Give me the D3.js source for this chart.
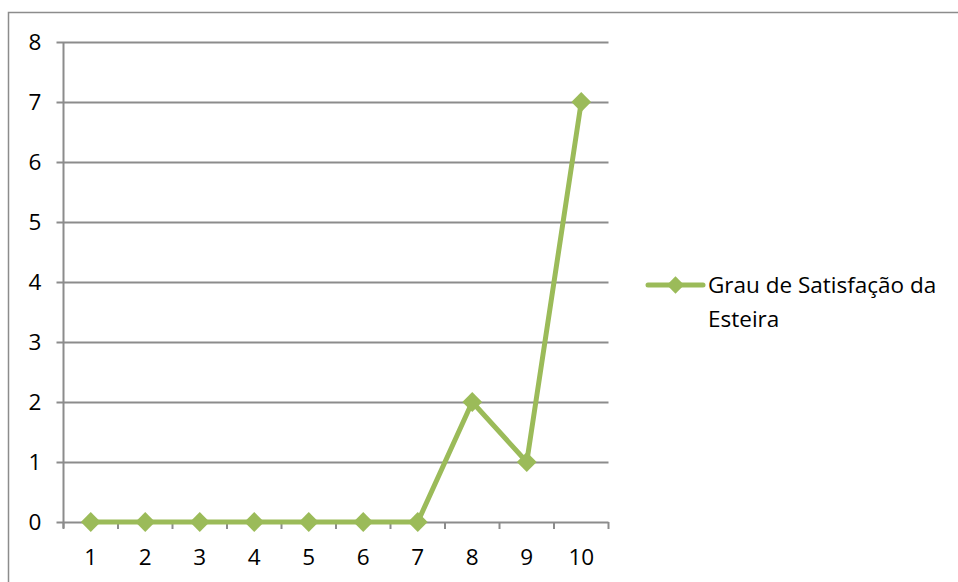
<!DOCTYPE html>
<html>
<head>
<meta charset="utf-8">
<script src="https://cdn.jsdelivr.net/npm/d3@7"></script>
<style>
  html, body { margin: 0; padding: 0; background: #fff; }
  svg text { font-family: "Open Sans", "Noto Sans", sans-serif; fill: #000; }
</style>
</head>
<body>
<svg id="chart" width="958" height="582"></svg>
<script>
// Notas de satisfação (1 a 10) e quantidade de respostas em cada uma
const categories = ["1", "2", "3", "4", "5", "6", "7", "8", "9", "10"];
const values = [0, 0, 0, 0, 0, 0, 0, 2, 1, 7];
const yTicks = [0, 1, 2, 3, 4, 5, 6, 7, 8];
const seriesName = ["Grau de Satisfação da", "Esteira"];

const color = "#9BBB59";
const fontSize = 22.5;
const svg = d3.select("#chart");

// Moldura externa do gráfico
svg.append("rect")
  .attr("x", 8.5).attr("y", 12.5)
  .attr("width", 1000).attr("height", 1000)
  .attr("fill", "none").attr("stroke", "#8c8c8c").attr("stroke-width", 1.5);

const plot = { left: 63.5, right: 608.5, top: 42, bottom: 522 };

const x = d3.scaleBand().domain(categories).range([plot.left, plot.right]);
const y = d3.scaleLinear().domain([0, 8]).range([plot.bottom, plot.top]);

// Linhas de grade horizontais
svg.append("g").selectAll("line").data(yTicks).join("line")
  .attr("x1", plot.left - 7).attr("x2", plot.right)
  .attr("y1", d => Math.round(y(d)) + 0.5).attr("y2", d => Math.round(y(d)) + 0.5)
  .attr("stroke", "#8c8c8c").attr("stroke-width", 2);

// Eixo vertical
svg.append("line")
  .attr("x1", plot.left).attr("x2", plot.left)
  .attr("y1", plot.top).attr("y2", plot.bottom + 6)
  .attr("stroke", "#8c8c8c").attr("stroke-width", 2);

// Marcas do eixo horizontal entre as categorias
const boundaries = categories.map(c => x(c) + x.bandwidth()).concat([plot.left]);
svg.append("g").selectAll("line").data(boundaries).join("line")
  .attr("x1", d => d).attr("x2", d => d)
  .attr("y1", plot.bottom).attr("y2", plot.bottom + 7)
  .attr("stroke", "#8c8c8c").attr("stroke-width", 2);

// Rótulos do eixo Y
svg.append("g").selectAll("text").data(yTicks).join("text")
  .attr("x", 35).attr("y", d => y(d))
  .attr("dy", "0.36em").attr("text-anchor", "middle")
  .attr("font-size", fontSize)
  .text(d => d);

// Rótulos do eixo X
svg.append("g").selectAll("text").data(categories).join("text")
  .attr("x", d => x(d) + x.bandwidth() / 2).attr("y", 565)
  .attr("text-anchor", "middle")
  .attr("font-size", fontSize)
  .text(d => d);

// Série
const cx = (d, i) => x(categories[i]) + x.bandwidth() / 2;
const line = d3.line().x(cx).y(d => y(d));
svg.append("path").datum(values)
  .attr("d", line)
  .attr("fill", "none").attr("stroke", color)
  .attr("stroke-width", 5).attr("stroke-linejoin", "round");

const diamond = d3.symbol().type(d3.symbolDiamond2).size(250);
svg.append("g").selectAll("path").data(values).join("path")
  .attr("d", diamond)
  .attr("transform", (d, i) => `translate(${cx(d, i)},${y(d)})`)
  .attr("fill", color);

// Legenda
const lg = svg.append("g").attr("transform", "translate(648,285)");
lg.append("line").attr("x1", 0).attr("x2", 55).attr("y1", 0).attr("y2", 0)
  .attr("stroke", color).attr("stroke-width", 5).attr("stroke-linecap", "round");
lg.append("path").attr("d", d3.symbol().type(d3.symbolDiamond2).size(190))
  .attr("transform", "translate(27.5,0)")
  .attr("fill", color);
lg.append("text").attr("x", 60).attr("y", 0).attr("dy", "0.36em")
  .attr("font-size", fontSize).text(seriesName[0]);
lg.append("text").attr("x", 60).attr("y", 34).attr("dy", "0.36em")
  .attr("font-size", fontSize).text(seriesName[1]);
</script>
</body>
</html>
